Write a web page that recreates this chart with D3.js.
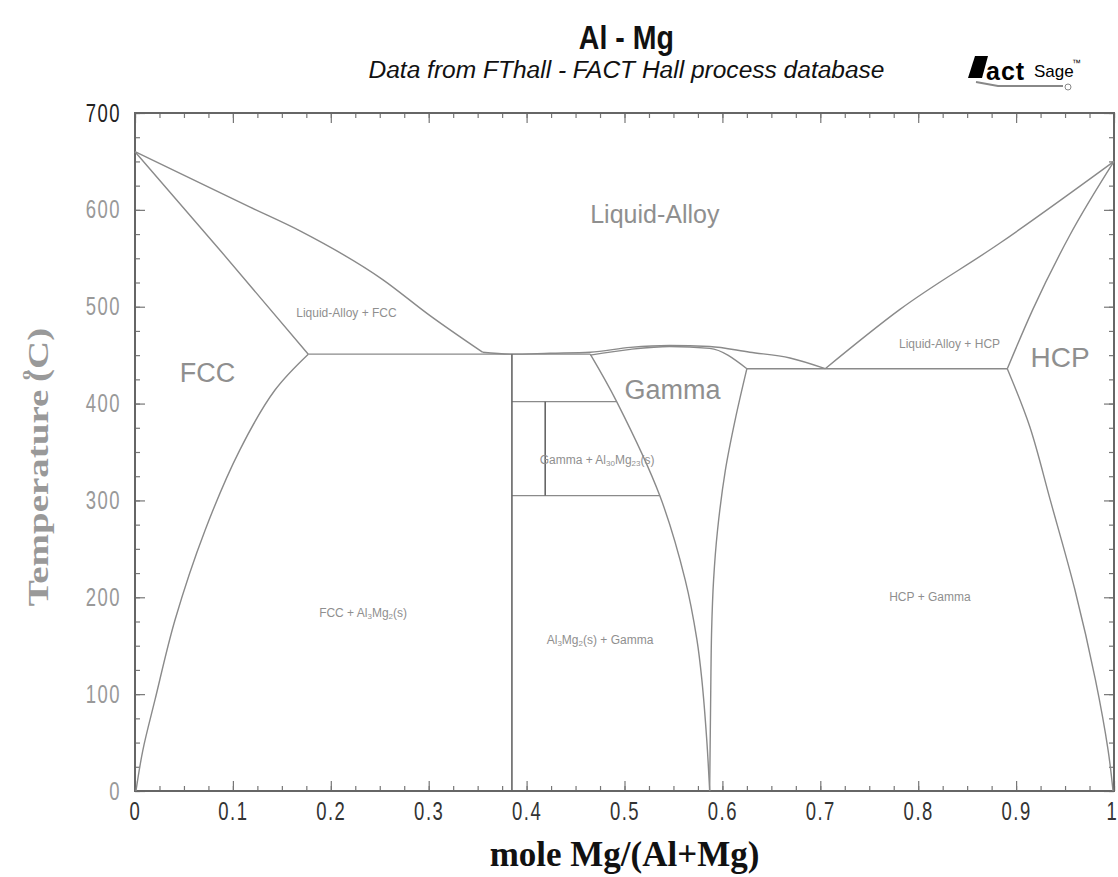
<!DOCTYPE html>
<html>
<head>
<meta charset="utf-8">
<script src="https://cdn.jsdelivr.net/npm/d3@7"></script>
<style>
  body { margin: 0; background: #fff; }
</style>
</head>
<body>
<script>
const width = 1118;
const height = 877;
const margin = { top: 113, right: 4, bottom: 86, left: 135 };

// axis ticks
const xMajor = [0, 0.1, 0.2, 0.3, 0.4, 0.5, 0.6, 0.7, 0.8, 0.9, 1];
const xLabels = ["0", "0.1", "0.2", "0.3", "0.4", "0.5", "0.6", "0.7", "0.8", "0.9", "1"];
const yMajor = [0, 100, 200, 300, 400, 500, 600, 700];

// phase boundaries as [mole Mg/(Al+Mg), T in C]
const liquidusAl = [[0, 660], [0.117, 603], [0.169, 578], [0.253, 528], [0.301, 491], [0.355, 453]];
const liquidusMid = [[0.355, 453], [0.385, 451], [0.424, 452], [0.465, 453], [0.506, 458],
  [0.546, 460], [0.587, 459], [0.628, 453], [0.669, 447], [0.705, 436]];
const liquidusMg = [[0.705, 436], [0.781, 497], [0.884, 566], [1, 650]];
const solidusFcc = [[0, 660], [0.088, 557], [0.177, 451]];
const solvusFcc = [[0.177, 451], [0.143, 414], [0.107, 352], [0.0715, 269], [0.041, 177],
  [0.0204, 94], [0.008, 42], [0.001, 0]];
const gammaTop = [[0.465, 450], [0.506, 456], [0.546, 459], [0.587, 457], [0.625, 436]];
const gammaLeft = [[0.465, 451], [0.492, 402], [0.536, 305], [0.562, 218], [0.574, 156],
  [0.579, 115], [0.584, 53], [0.587, 0]];
const gammaRight = [[0.625, 436], [0.613, 383], [0.603, 331], [0.595, 269], [0.591, 218],
  [0.589, 166], [0.588, 94], [0.587, 0]];
const solidusHcp = [[0.891, 436], [0.917, 497], [0.955, 574], [1, 650]];
const solvusHcp = [[0.891, 436], [0.914, 376], [0.935, 300], [0.960, 208], [0.981, 115],
  [0.994, 42], [0.999, 0]];

// invariant lines: isotherms [x1, x2, T], compounds [x, T1, T2]
const isotherms = [[0.177, 0.465, 451], [0.385, 0.492, 402], [0.385, 0.536, 305], [0.625, 0.891, 436]];
const compounds = [[0.385, 0, 451], [0.419, 305, 402]];

const svg = d3
  .select("body")
  .append("svg")
  .attr("width", width)
  .attr("height", height)
  .style("font-family", "Liberation Sans, Arial, sans-serif");

const x = d3.scaleLinear().domain([0, 1]).range([margin.left, width - margin.right]);
const y = d3.scaleLinear().domain([0, 700]).range([height - margin.bottom, margin.top]);
const midX = (x(0) + x(1)) / 2;

/* ---------- titles ---------- */
svg.append("text")
  .attr("x", midX + 2).attr("y", 45)
  .attr("text-anchor", "middle")
  .attr("font-size", 31).attr("font-weight", "bold")
  .attr("fill", "#111")
  .attr("transform", `translate(${midX},0) scale(0.92,1.08) translate(${-midX},0)`)
  .text("Al - Mg");

svg.append("text")
  .attr("x", midX + 2).attr("y", 78)
  .attr("text-anchor", "middle")
  .attr("font-size", 23).attr("font-style", "italic")
  .attr("textLength", 516).attr("lengthAdjust", "spacingAndGlyphs")
  .attr("fill", "#111")
  .text("Data from FThall - FACT Hall process database");

// FactSage logo (approximate)
const logo = svg.append("g").attr("transform", "translate(968,80)");
logo.append("path").attr("d", "M0,-2 L7,-24 L20,-24 L14,-2 Z").attr("fill", "#000");
logo.append("text").attr("x", 18).attr("y", 0)
  .attr("font-size", 25).attr("font-weight", "bold").attr("fill", "#000")
  .attr("letter-spacing", 1)
  .text("act");
logo.append("text").attr("x", 66).attr("y", -3)
  .attr("font-size", 17).attr("fill", "#000")
  .text("Sage");
logo.append("text").attr("x", 104).attr("y", -14)
  .attr("font-size", 9).attr("fill", "#000")
  .text("\u2122");
logo.append("path").attr("d", "M8,2 L30,6 L95,6").attr("fill", "none").attr("stroke", "#888").attr("stroke-width", 2);
logo.append("circle").attr("cx", 100).attr("cy", 7).attr("r", 3).attr("fill", "none").attr("stroke", "#888");

/* ---------- axes ---------- */
const xAxisMinor = d3.axisBottom(x).tickValues(d3.range(0, 1.0001, 0.025)).tickSize(-5).tickFormat("");
const xAxisMajor = d3.axisBottom(x).tickValues(xMajor).tickSize(-10).tickPadding(11)
  .tickFormat((d, i) => xLabels[i]);
const yAxisMinor = d3.axisLeft(y).tickValues(d3.range(0, 701, 25)).tickSize(-5).tickFormat("");
const yAxisMajor = d3.axisLeft(y).tickValues(yMajor).tickSize(-10).tickPadding(14);

const gBottom = svg.append("g").attr("transform", `translate(0,${y(0)})`);
gBottom.append("g").call(xAxisMinor);
gBottom.append("g").call(xAxisMajor);
const gTop = svg.append("g").attr("transform", `translate(0,${y(700)})`);
gTop.append("g").call(d3.axisTop(x).tickValues(d3.range(0, 1.0001, 0.025)).tickSize(-5).tickFormat(""));
gTop.append("g").call(d3.axisTop(x).tickValues(xMajor).tickSize(-10).tickFormat(""));
const gLeft = svg.append("g").attr("transform", `translate(${x(0)},0)`);
gLeft.append("g").call(yAxisMinor);
gLeft.append("g").call(yAxisMajor);
const gRight = svg.append("g").attr("transform", `translate(${x(1)},0)`);
gRight.append("g").call(d3.axisRight(y).tickValues(d3.range(0, 701, 25)).tickSize(-5).tickFormat(""));
gRight.append("g").call(d3.axisRight(y).tickValues(yMajor).tickSize(-10).tickFormat(""));

svg.selectAll(".domain").remove();
svg.selectAll(".tick line").attr("stroke", "#777").attr("stroke-width", 1.2);
svg.selectAll(".tick text")
  .attr("font-family", "Liberation Sans, Arial, sans-serif")
  .attr("font-size", 25)
  .attr("letter-spacing", 2)
  .attr("transform", "scale(0.74,1)");
gBottom.selectAll(".tick text").attr("fill", "#333");
gBottom.selectAll(".tick text").filter((d) => d === 1)
  .attr("text-anchor", "end").attr("x", 5);
gLeft.selectAll(".tick text")
  .attr("x", -19)
  .attr("fill", (d) => (d === 700 ? "#222" : "#999"));

svg.append("rect")
  .attr("x", x(0)).attr("y", y(700))
  .attr("width", x(1) - x(0)).attr("height", y(0) - y(700))
  .attr("fill", "none").attr("stroke", "#666").attr("stroke-width", 2);

// axis titles
svg.append("text")
  .attr("transform", "translate(48,467) rotate(-90) scale(1.3,1)")
  .attr("text-anchor", "middle")
  .attr("font-family", "Liberation Serif, Times New Roman, serif")
  .attr("font-size", 30).attr("font-weight", "bold")
  .attr("fill", "#999")
  .call((t) => {
    t.append("tspan").text("Temperature ");
    t.append("tspan").attr("font-size", 15).attr("dy", -18).text("o");
    t.append("tspan").attr("dy", 18).attr("dx", -9).text("(C)");
  });

svg.append("text")
  .attr("x", midX).attr("y", 866)
  .attr("text-anchor", "middle")
  .attr("font-family", "Liberation Serif, Times New Roman, serif")
  .attr("font-size", 35).attr("font-weight", "bold")
  .attr("fill", "#111")
  .text("mole Mg/(Al+Mg)");

/* ---------- phase boundaries ---------- */
const curve = d3.line()
  .x((d) => x(d[0]))
  .y((d) => y(d[1]))
  .curve(d3.curveCatmullRom.alpha(0.5));
const smooth = d3.line()
  .x((d) => x(d[0]))
  .y((d) => y(d[1]))
  .curve(d3.curveMonotoneX);

const plot = svg.append("g")
  .attr("fill", "none")
  .attr("stroke", "#8a8a8a")
  .attr("stroke-width", 1.4);

[liquidusAl, liquidusMid, liquidusMg, solidusFcc, gammaTop, solidusHcp].forEach((pts) => {
  plot.append("path").attr("d", smooth(pts));
});
[solvusFcc, gammaLeft, gammaRight, solvusHcp].forEach((pts) => {
  plot.append("path").attr("d", curve(pts));
});

plot.selectAll("line.iso")
  .data(isotherms)
  .enter()
  .append("line")
  .attr("x1", (d) => x(d[0]))
  .attr("x2", (d) => x(d[1]))
  .attr("y1", (d) => y(d[2]))
  .attr("y2", (d) => y(d[2]));

plot.selectAll("line.cmp")
  .data(compounds)
  .enter()
  .append("line")
  .attr("x1", (d) => x(d[0]))
  .attr("x2", (d) => x(d[0]))
  .attr("y1", (d) => y(d[1]))
  .attr("y2", (d) => y(d[2]))
  .attr("stroke", "#666")
  .attr("stroke-width", 1.6);

/* ---------- region labels ---------- */
const labels = svg.append("g")
  .attr("fill", "#8f8f8f")
  .attr("text-anchor", "middle");

const bigLabel = (px, t, text, size) =>
  labels.append("text")
    .attr("x", x(px)).attr("y", y(t))
    .attr("dy", "0.35em")
    .attr("font-size", size)
    .text(text);

bigLabel(0.531, 595, "Liquid-Alloy", 25);
bigLabel(0.074, 432, "FCC", 27);
bigLabel(0.549, 414, "Gamma", 27);
bigLabel(0.945, 448, "HCP", 28);
bigLabel(0.216, 494, "Liquid-Alloy + FCC", 12);
bigLabel(0.832, 462, "Liquid-Alloy + HCP", 12);
bigLabel(0.812, 200, "HCP + Gamma", 12);

// labels with subscripts
const subLabel = (px, t, parts) => {
  const txt = labels.append("text")
    .attr("x", x(px)).attr("y", y(t))
    .attr("dy", "0.35em")
    .attr("font-size", 12);
  parts.forEach(([s, sub]) => {
    txt.append("tspan")
      .attr("font-size", sub ? 8 : 12)
      .attr("baseline-shift", sub ? "-25%" : null)
      .text(s);
  });
};

subLabel(0.472, 342, [["Gamma + Al"], ["30", true], ["Mg"], ["23", true], ["(s)"]]);
subLabel(0.233, 184, [["FCC + Al"], ["3", true], ["Mg"], ["2", true], ["(s)"]]);
subLabel(0.475, 156, [["Al"], ["3", true], ["Mg"], ["2", true], ["(s) + Gamma"]]);
</script>
</body>
</html>
